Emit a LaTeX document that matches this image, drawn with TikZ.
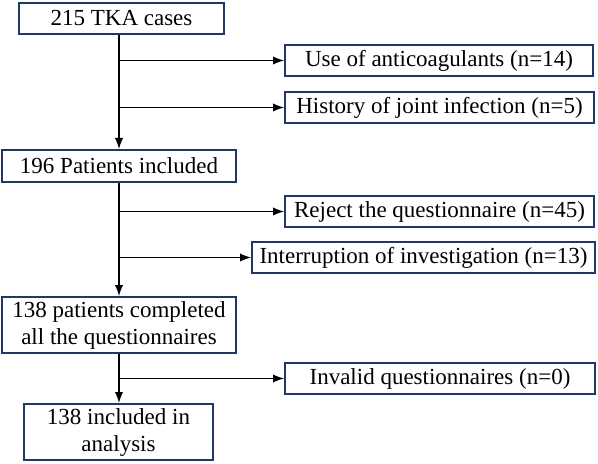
\documentclass[tikz,border=0pt]{standalone}
\usepackage{fontspec}
\setmainfont{Liberation Serif}
\usepackage{tikz}
\usetikzlibrary{positioning,arrows}
\definecolor{boxblue}{HTML}{1F3864}

\begin{document}
\begin{tikzpicture}[>=latex, x=0.5pt, y=-0.5pt,
    flowbox/.style={draw=boxblue, line width=1pt, fill=white, inner sep=0pt,
        align=center, font=\fontsize{11.5}{13.5}\selectfont},
    flowline/.style={line width=0.9pt, black}]
        \useasboundingbox (0,0) rectangle (598,464);
        \path
    
        % main column
        +(121.5, 18.5) node[flowbox, minimum width=102.5pt, minimum height=15.5pt] (cases) {215 TKA cases}
        +(119, 166)    node[flowbox, minimum width=117pt, minimum height=16pt] (incl) {196 Patients included}
        +(119, 325)    node[flowbox, minimum width=117pt, minimum height=28pt] (compl) {138 patients completed\\all the questionnaires}
        +(118.5, 432)  node[flowbox, minimum width=94.5pt, minimum height=28pt] (anal) {138 included in\\analysis}
        % exclusions
        +(439, 60.5)   node[flowbox, minimum width=154pt, minimum height=15.5pt] (anti) {Use of anticoagulants (n=14)}
        +(439.5, 107.5) node[flowbox, minimum width=154.5pt, minimum height=15.5pt] (hist) {History of joint infection (n=5)}
        +(439.5, 211.5) node[flowbox, minimum width=154.5pt, minimum height=15.5pt] (rej) {Reject the questionnaire (n=45)}
        +(423.5, 257.5) node[flowbox, minimum width=171.5pt, minimum height=15.5pt] (intr) {Interruption of investigation (n=13)}
        +(440, 378.5)  node[flowbox, minimum width=155pt, minimum height=15.5pt] (inval) {Invalid questionnaires (n=0)};

        \draw[flowline,->] (cases.south -| incl.north) -- (incl.north);
        \draw[flowline,->] (incl.north |- anti.west) -- (anti.west);
        \draw[flowline,->] (incl.north |- hist.west) -- (hist.west);

        \draw[flowline,->] (incl.south) -- (incl.south |- compl.north);
        \draw[flowline,->] (incl.south |- rej.west) -- (rej.west);
        \draw[flowline,->] (incl.south |- intr.west) -- (intr.west);

        \draw[flowline,->] (compl.south) -- (compl.south |- anal.north);
        \draw[flowline,->] (compl.south |- inval.west) -- (inval.west);
    \end{tikzpicture}
\end{document}
